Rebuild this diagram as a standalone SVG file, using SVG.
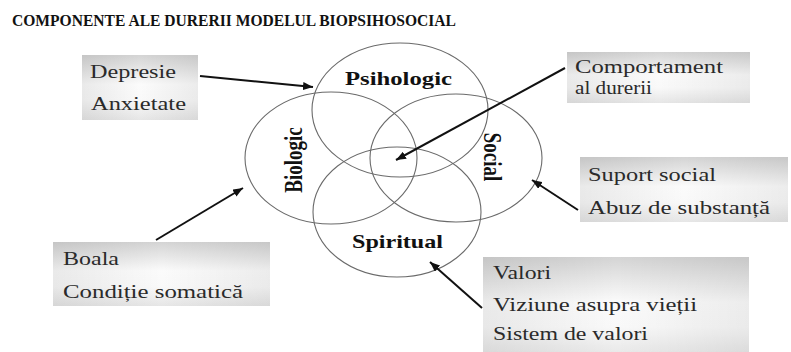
<svg xmlns="http://www.w3.org/2000/svg" width="791" height="352" viewBox="0 0 791 352">
<defs>
<linearGradient id="boxg" x1="0" y1="0" x2="0" y2="1">
<stop offset="0" stop-color="#d4d4d4"/>
<stop offset="0.45" stop-color="#fbfbfb"/>
<stop offset="0.7" stop-color="#f9f9f9"/>
<stop offset="1" stop-color="#e6e6e6"/>
</linearGradient>
<linearGradient id="boxh" x1="0" y1="0" x2="1" y2="0">
<stop offset="0" stop-color="#000" stop-opacity="0.07"/>
<stop offset="0.5" stop-color="#000" stop-opacity="0"/>
<stop offset="1" stop-color="#000" stop-opacity="0.06"/>
</linearGradient>
<marker id="ah" markerUnits="userSpaceOnUse" markerWidth="10" markerHeight="8" refX="10" refY="4" orient="auto">
<path d="M0,0 L10,4 L0,8 z" fill="#111"/>
</marker>
<style>
.title{font-weight:bold;font-size:17px;fill:#111}
.lbl{font-weight:bold;font-size:19px;fill:#111}
.bt{font-size:18px;fill:#2a2a2a}
.box{fill:url(#boxg)}
.boxs{fill:url(#boxh)}
.circ{fill:none;stroke:#6a6a6a;stroke-width:1.1}
.arr{stroke:#111;stroke-width:2;fill:none;marker-end:url(#ah)}
</style>
</defs>
<g font-family="Liberation Serif, Times New Roman, serif">
<text class="title" x="12" y="26" textLength="444" lengthAdjust="spacingAndGlyphs">COMPONENTE ALE DURERII MODELUL BIOPSIHOSOCIAL</text>

<g id="circles">
<g id="psihologic">
<ellipse class="circ" cx="400" cy="110" rx="88" ry="67"/>
<text class="lbl" x="345" y="85" textLength="107" lengthAdjust="spacingAndGlyphs">Psihologic</text>
</g>
<g id="biologic">
<ellipse class="circ" cx="331" cy="158" rx="86" ry="66"/>
<text class="lbl" text-anchor="middle" transform="translate(302,160) rotate(-90) scale(1,1.3)">Biologic</text>
</g>
<g id="social">
<ellipse class="circ" cx="456" cy="158" rx="86" ry="64"/>
<text class="lbl" text-anchor="middle" transform="translate(484,157) rotate(90) scale(1,1.3)">Social</text>
</g>
<g id="spiritual">
<ellipse class="circ" cx="397" cy="212" rx="84" ry="65"/>
<text class="lbl" x="352" y="248" textLength="91" lengthAdjust="spacingAndGlyphs">Spiritual</text>
</g>
</g>

<g id="box-depresie">
<rect class="box" x="82" y="55" width="116" height="65"/>
<rect class="boxs" x="82" y="55" width="116" height="65"/>
<text class="bt" x="90" y="78" textLength="86" lengthAdjust="spacingAndGlyphs">Depresie</text>
<text class="bt" x="91" y="110" textLength="95" lengthAdjust="spacingAndGlyphs">Anxietate</text>
</g>

<g id="box-comportament">
<rect class="box" x="567" y="52" width="183" height="51"/>
<rect class="boxs" x="567" y="52" width="183" height="51"/>
<text class="bt" x="575" y="73" textLength="148" lengthAdjust="spacingAndGlyphs">Comportament</text>
<text class="bt" x="575" y="94" textLength="77" lengthAdjust="spacingAndGlyphs">al durerii</text>
</g>

<g id="box-social">
<rect class="box" x="580" y="157" width="208" height="65"/>
<rect class="boxs" x="580" y="157" width="208" height="65"/>
<text class="bt" x="588" y="181" textLength="128" lengthAdjust="spacingAndGlyphs">Suport social</text>
<text class="bt" x="588" y="214" textLength="182" lengthAdjust="spacingAndGlyphs">Abuz de substanță</text>
</g>

<g id="box-boala">
<rect class="box" x="53" y="242" width="217" height="64"/>
<rect class="boxs" x="53" y="242" width="217" height="64"/>
<text class="bt" x="63" y="265" textLength="56" lengthAdjust="spacingAndGlyphs">Boala</text>
<text class="bt" x="63" y="298" textLength="180" lengthAdjust="spacingAndGlyphs">Condiție somatică</text>
</g>

<g id="box-valori">
<rect class="box" x="483" y="257" width="266" height="100"/>
<rect class="boxs" x="483" y="257" width="266" height="100"/>
<text class="bt" x="493" y="279" textLength="58" lengthAdjust="spacingAndGlyphs">Valori</text>
<text class="bt" x="493" y="311" textLength="204" lengthAdjust="spacingAndGlyphs">Viziune asupra vieții</text>
<text class="bt" x="493" y="340" textLength="155" lengthAdjust="spacingAndGlyphs">Sistem de valori</text>
</g>
</g>

<g id="connectors">
<line class="arr" x1="200" y1="76" x2="313" y2="87"/>
<line class="arr" x1="565" y1="68" x2="396" y2="160"/>
<line class="arr" x1="578" y1="210" x2="532" y2="180"/>
<line class="arr" x1="156" y1="240" x2="243" y2="188"/>
<line class="arr" x1="482" y1="308" x2="430" y2="262"/>
</g>
</svg>
